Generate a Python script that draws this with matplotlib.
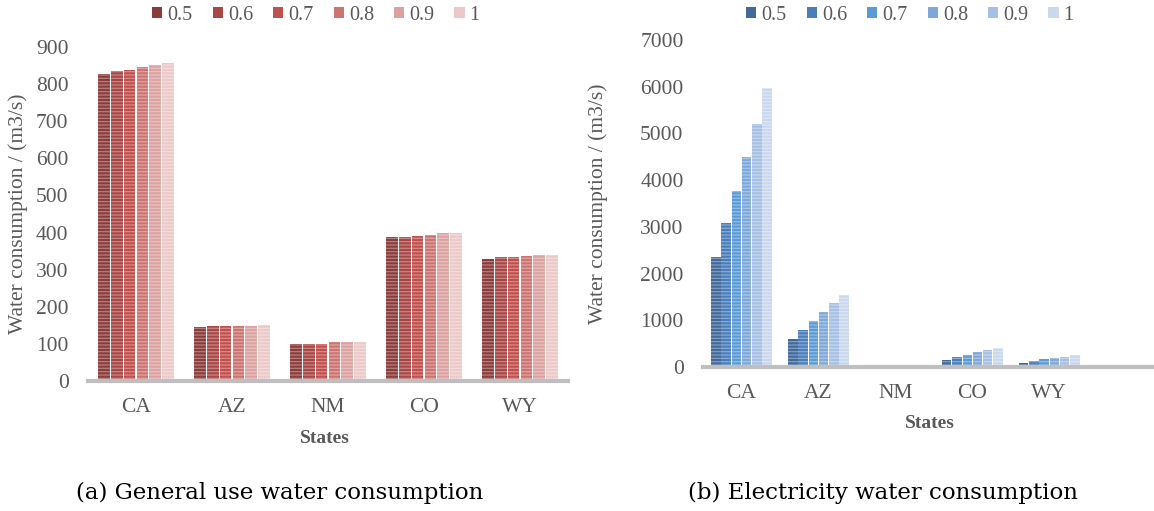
import matplotlib
matplotlib.use("Agg")
import matplotlib.pyplot as plt
import numpy as np

# data
states = ['CA', 'AZ', 'NM', 'CO', 'WY']
factors = ['0.5', '0.6', '0.7', '0.8', '0.9', '1']

general_use = [
    [827, 145, 101, 388, 330],   # 0.5
    [834, 149, 101, 388, 335],   # 0.6
    [839, 149, 101, 391, 335],   # 0.7
    [845, 149, 104, 393, 337],   # 0.8
    [852, 149, 104, 398, 339],   # 0.9
    [857, 152, 104, 400, 339],   # 1
]
electricity = [
    [2350, 600, 0, 160, 95],     # 0.5
    [3075, 790, 0, 210, 135],    # 0.6
    [3770, 985, 0, 260, 165],    # 0.7
    [4500, 1180, 0, 315, 185],   # 0.8
    [5210, 1375, 0, 360, 210],   # 0.9
    [5965, 1540, 0, 405, 265],   # 1
]

reds = ['#8c3b3b', '#a94646', '#c0504d', '#cd7370', '#dca1a1', '#ecc9c9']
blues = ['#41699a', '#4a7ebb', '#5b9bd5', '#7ea8da', '#a6bfe4', '#cad8ee']

plt.rcParams['font.family'] = ['Liberation Serif', 'DejaVu Serif']
plt.rcParams['hatch.linewidth'] = 0.9

W, H = 1154, 511
fig = plt.figure(figsize=(W / 100, H / 100), dpi=100)


def px_axes(l, r, b, t):
    return fig.add_axes([l / W, 1 - b / H, (r - l) / W, (b - t) / H])


def draw_panel(ax, data, colors, ymax, ystep, xmax):
    x = np.arange(len(states))
    n = len(factors)
    width = 0.8 / n
    for i, vals in enumerate(data):
        pos = x - 0.4 + width * (i + 0.5)
        ax.bar(pos, vals, width * 0.92, color=colors[i], linewidth=0, label=factors[i])
        ax.bar(pos, vals, width * 0.92, color='none', edgecolor=(1, 1, 1, 0.35),
               hatch='-----', linewidth=0)
    ax.set_xlim(-0.5, xmax)
    ax.set_ylim(0, ymax)
    ax.set_yticks(np.arange(0, ymax + 1, ystep))
    ax.set_xticks(x)
    ax.set_xticklabels(states)
    for s in ['top', 'right', 'left']:
        ax.spines[s].set_visible(False)
    ax.spines['bottom'].set_color('#bfbfbf')
    ax.spines['bottom'].set_linewidth(3)
    ax.tick_params(axis='both', length=0, labelsize=15.5, colors='#595959')
    ax.tick_params(axis='x', pad=12)
    ax.tick_params(axis='y', pad=14)
    ax.set_xlabel('States', fontsize=14, fontweight='bold', color='#595959')
    ax.set_ylabel('Water consumption / (m3/s)', fontsize=15.5, color='#595959')


ax1 = px_axes(88, 568, 381, 47)
draw_panel(ax1, general_use, reds, 900, 100, 4.5)
ax1.yaxis.set_label_coords(-0.125, 0.5)
ax1.xaxis.set_label_coords(0.494, -0.147)

ax2 = px_axes(703, 1154, 367, 40)
draw_panel(ax2, electricity, blues, 7000, 1000, 5.36)
ax2.yaxis.set_label_coords(-0.21, 0.5)
ax2.xaxis.set_label_coords(0.503, -0.147)

for ax, cx in [(ax1, 316 / W), (ax2, 910 / W)]:
    h, l = ax.get_legend_handles_labels()
    fig.legend(h[:6], l[:6], loc='center', bbox_to_anchor=(cx, 1 - 15 / H), ncol=6,
               frameon=False, fontsize=14.5, handlelength=0.5, handleheight=0.5,
               handletextpad=0.25, columnspacing=1.0, labelcolor='#595959')

fig.text(280 / W, 1 - 493 / H, '(a) General use water consumption', ha='center', va='center',
         fontsize=16.5, family=['DejaVu Serif'])
fig.text(883 / W, 1 - 493 / H, '(b) Electricity water consumption', ha='center', va='center',
         fontsize=16.5, family=['DejaVu Serif'])

fig.savefig('out.png', dpi=100)
